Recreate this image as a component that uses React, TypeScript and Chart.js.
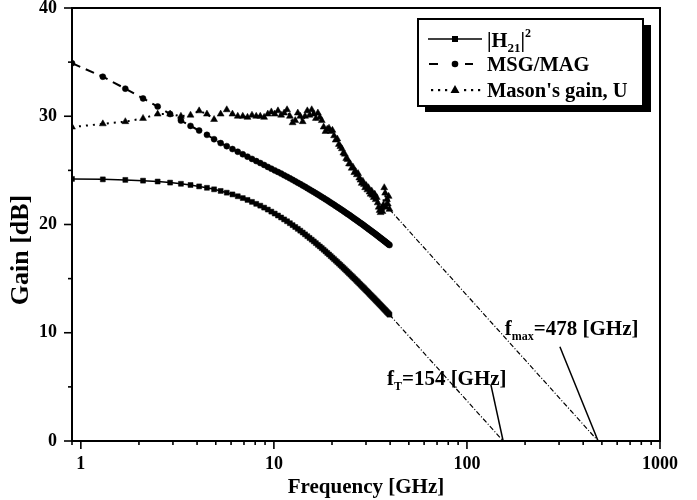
import React, { useEffect, useRef } from 'react';
import { Chart, registerables } from 'chart.js';

Chart.register(...registerables);

const FONT = "'Liberation Serif', 'Times New Roman', serif";

// ---- data ----
const FREQ_GHZ = [
  0.9, 1.3, 1.7, 2.1, 2.5, 2.9, 3.3, 3.7, 4.1, 4.5,
  4.9, 5.3, 5.7, 6.1, 6.5, 6.9, 7.3, 7.7, 8.1, 8.5,
  8.9, 9.3, 9.7, 10.1, 10.5, 10.9, 11.3, 11.7, 12.1, 12.5,
  12.9, 13.3, 13.7, 14.1, 14.5, 14.9, 15.3, 15.7, 16.1, 16.5,
  16.9, 17.3, 17.7, 18.1, 18.5, 18.9, 19.3, 19.7, 20.1, 20.5,
  20.9, 21.3, 21.7, 22.1, 22.5, 22.9, 23.3, 23.7, 24.1, 24.5,
  24.9, 25.3, 25.7, 26.1, 26.5, 26.9, 27.3, 27.7, 28.1, 28.5,
  28.9, 29.3, 29.7, 30.1, 30.5, 30.9, 31.3, 31.7, 32.1, 32.5,
  32.9, 33.3, 33.7, 34.1, 34.5, 34.9, 35.3, 35.7, 36.1, 36.5,
  36.9, 37.3, 37.7, 38.1, 38.5, 38.9, 39.3, 39.7,
];

const H21_DB = [
  24.21, 24.17, 24.12, 24.05, 23.97, 23.87, 23.76, 23.65, 23.52, 23.39,
  23.25, 23.10, 22.94, 22.78, 22.61, 22.44, 22.27, 22.09, 21.91, 21.74,
  21.56, 21.38, 21.19, 21.01, 20.83, 20.65, 20.47, 20.30, 20.12, 19.94,
  19.77, 19.60, 19.43, 19.26, 19.09, 18.92, 18.76, 18.60, 18.44, 18.28,
  18.12, 17.97, 17.82, 17.67, 17.52, 17.37, 17.23, 17.08, 16.94, 16.80,
  16.66, 16.53, 16.39, 16.26, 16.13, 16.00, 15.87, 15.74, 15.62, 15.49,
  15.37, 15.25, 15.13, 15.01, 14.90, 14.78, 14.67, 14.55, 14.44, 14.33,
  14.22, 14.12, 14.01, 13.90, 13.80, 13.70, 13.59, 13.49, 13.39, 13.29,
  13.20, 13.10, 13.00, 12.91, 12.82, 12.72, 12.63, 12.54, 12.45, 12.36,
  12.27, 12.18, 12.10, 12.01, 11.92, 11.84, 11.76, 11.67,
];

const MSG_MAG_DB = [
  34.90, 33.65, 32.55, 31.65, 30.90, 30.20, 29.60, 29.11, 28.68, 28.28,
  27.88, 27.52, 27.24, 26.97, 26.72, 26.49, 26.27, 26.06, 25.86, 25.68,
  25.50, 25.32, 25.16, 25.00, 24.85, 24.70, 24.55, 24.41, 24.27, 24.13,
  23.99, 23.86, 23.73, 23.60, 23.48, 23.36, 23.23, 23.11, 23.00, 22.88,
  22.77, 22.66, 22.55, 22.44, 22.33, 22.23, 22.12, 22.02, 21.92, 21.82,
  21.72, 21.62, 21.53, 21.43, 21.34, 21.25, 21.15, 21.06, 20.97, 20.89,
  20.80, 20.71, 20.63, 20.54, 20.46, 20.38, 20.30, 20.21, 20.13, 20.06,
  19.98, 19.90, 19.82, 19.75, 19.67, 19.59, 19.52, 19.45, 19.37, 19.30,
  19.23, 19.16, 19.09, 19.02, 18.95, 18.88, 18.81, 18.75, 18.68, 18.61,
  18.55, 18.48, 18.42, 18.35, 18.29, 18.23, 18.16, 18.10,
];

const MASON_U_DB = [
  29.0, 29.3, 29.5, 29.8, 30.2, 30.2, 30.0, 30.1, 30.5, 30.2,
  29.7, 30.2, 30.6, 30.2, 30.0, 30.0, 29.9, 30.1, 30.0, 30.0,
  29.9, 30.2, 30.4, 30.2, 30.5, 30.1, 30.3, 30.6, 30.0, 29.4,
  29.6, 30.3, 30.0, 29.5, 30.0, 30.5, 30.1, 30.6, 30.2, 29.8,
  30.3, 29.9, 29.6, 29.0, 28.6, 28.8, 28.9, 28.6, 28.7, 28.2,
  27.8, 27.9, 27.4, 27.2, 27.0, 26.6, 26.5, 26.1, 26.0, 25.6,
  25.6, 25.2, 25.3, 24.8, 24.9, 24.6, 24.7, 24.3, 24.1, 23.8,
  24.0, 23.7, 23.4, 23.6, 23.2, 23.4, 23.0, 22.8, 23.1, 22.7,
  22.5, 22.8, 22.3, 22.5, 22.0, 21.6, 21.3, 21.1, 21.5, 21.2,
  21.8, 23.4, 22.9, 21.6, 22.3, 21.9, 22.6, 21.4,
];

const FT_GHZ = 154;
const FMAX_GHZ = 478;
const FT_EXTRAP_FREQ = [39.7, FT_GHZ];
const FT_EXTRAP_DB = [11.67, 0];
const FMAX_EXTRAP_FREQ = [39.7, FMAX_GHZ];
const FMAX_EXTRAP_DB = [21.4, 0];

const X_MAJOR_TICKS = [1, 10, 100, 1000];
const X_MINOR_TICKS = [0.9, 2, 3, 4, 5, 6, 7, 8, 9, 20, 30, 40, 50, 60, 70, 80, 90, 200, 300, 400, 500, 600, 700, 800, 900];
const Y_MAJOR_TICKS = [0, 10, 20, 30, 40];
const Y_MINOR_TICKS = [5, 15, 25, 35];

const X_TITLE = 'Frequency [GHz]';
const Y_TITLE = 'Gain [dB]';

const toPoints = (xs: number[], ys: number[]) => xs.map((x, i) => ({ x, y: ys[i] }));

type Part = { text: string; size: number; dy: number };

function drawRich(ctx: CanvasRenderingContext2D, x: number, baseline: number, parts: Part[]) {
  let cx = x;
  for (const p of parts) {
    ctx.font = `bold ${p.size}px ${FONT}`;
    ctx.fillText(p.text, cx, baseline + p.dy);
    cx += ctx.measureText(p.text).width;
  }
}

const decorPlugin = {
  id: 'decor',
  afterDatasetsDraw(chart: any) {
    const { ctx, chartArea: a, scales } = chart;
    const xs = scales.x;
    const ys = scales.y;
    ctx.save();
    ctx.strokeStyle = '#000';
    ctx.fillStyle = '#000';
    ctx.setLineDash([]);

    // frame
    ctx.lineWidth = 2;
    ctx.strokeRect(a.left, a.top, a.right - a.left, a.bottom - a.top);

    // ticks
    ctx.lineWidth = 1.6;
    const seg = (x1: number, y1: number, x2: number, y2: number) => {
      ctx.beginPath();
      ctx.moveTo(x1, y1);
      ctx.lineTo(x2, y2);
      ctx.stroke();
    };
    for (const v of Y_MAJOR_TICKS) { const p = ys.getPixelForValue(v); seg(a.left - 8, p, a.left, p); }
    for (const v of Y_MINOR_TICKS) { const p = ys.getPixelForValue(v); seg(a.left - 4, p, a.left, p); }
    for (const v of X_MAJOR_TICKS) { const p = xs.getPixelForValue(v); seg(p, a.bottom, p, a.bottom + 8); }
    for (const v of X_MINOR_TICKS) { const p = xs.getPixelForValue(v); seg(p, a.bottom, p, a.bottom + 4); }

    // y title
    ctx.save();
    ctx.translate(21, 250);
    ctx.rotate(-Math.PI / 2);
    ctx.font = `bold 26px ${FONT}`;
    ctx.textAlign = 'center';
    ctx.textBaseline = 'middle';
    ctx.fillText(Y_TITLE, 0, 0);
    ctx.restore();

    // annotations (pointer lines + labels)
    ctx.lineWidth = 1.5;
    seg(xs.getPixelForValue(133), ys.getPixelForValue(5.2), xs.getPixelForValue(FT_GHZ), ys.getPixelForValue(0));
    seg(xs.getPixelForValue(303), ys.getPixelForValue(8.7), xs.getPixelForValue(FMAX_GHZ), ys.getPixelForValue(0));
    ctx.textAlign = 'left';
    ctx.textBaseline = 'alphabetic';
    drawRich(ctx, xs.getPixelForValue(38.5), ys.getPixelForValue(5.2), [
      { text: 'f', size: 21, dy: 0 },
      { text: 'T', size: 12, dy: 5 },
      { text: `=${FT_GHZ} [GHz]`, size: 21, dy: 0 },
    ]);
    drawRich(ctx, xs.getPixelForValue(157), ys.getPixelForValue(9.8), [
      { text: 'f', size: 21, dy: 0 },
      { text: 'max', size: 12, dy: 5 },
      { text: `=${FMAX_GHZ} [GHz]`, size: 21, dy: 0 },
    ]);

    // legend
    const L = a.right - 242;
    const T = a.top + 11;
    const W = 225;
    const H = 87;
    ctx.fillStyle = '#000';
    ctx.fillRect(L + 7, T + 6, W + 1, H);
    ctx.fillStyle = '#fff';
    ctx.fillRect(L, T, W, H);
    ctx.lineWidth = 2;
    ctx.strokeRect(L, T, W, H);
    ctx.fillStyle = '#000';

    const sx1 = L + 10, sx2 = L + 64, mx = L + 37;
    const r1 = T + 20, r2 = T + 45, r3 = T + 71;
    // row 1: solid + square
    ctx.lineWidth = 1.6;
    seg(sx1, r1, sx2, r1);
    ctx.fillRect(mx - 3, r1 - 3, 6, 6);
    // row 2: dashes + circle
    ctx.lineWidth = 2;
    seg(sx1 + 1, r2, sx1 + 10, r2);
    seg(sx2 - 17, r2, sx2 - 9, r2);
    ctx.beginPath();
    ctx.arc(mx, r2, 3.3, 0, Math.PI * 2);
    ctx.fill();
    // row 3: dots + triangle
    for (const dx of [4, 11, 18, 28, 35, 42]) {
      const px = dx < 20 ? sx1 + dx : mx + dx - 18;
      ctx.fillRect(px - 1, r3 - 1, 2.2, 2.2);
    }
    ctx.beginPath();
    ctx.moveTo(mx, r3 - 5);
    ctx.lineTo(mx + 4.5, r3 + 3);
    ctx.lineTo(mx - 4.5, r3 + 3);
    ctx.closePath();
    ctx.fill();

    const tx = L + 69;
    drawRich(ctx, tx, r1 + 8, [
      { text: '|H', size: 20.5, dy: 0 },
      { text: '21', size: 13, dy: 5 },
      { text: '|', size: 20.5, dy: 0 },
      { text: '2', size: 12, dy: -10 },
    ]);
    drawRich(ctx, tx, r2 + 7, [{ text: 'MSG/MAG', size: 20.5, dy: 0 }]);
    drawRich(ctx, tx, r3 + 7, [{ text: "Mason's gain, U", size: 20.5, dy: 0 }]);

    ctx.restore();
  },
};

export default function App() {
  const ref = useRef<HTMLCanvasElement | null>(null);

  useEffect(() => {
    if (!ref.current) return;
    const chart = new Chart(ref.current, {
      type: 'scatter',
      data: {
        datasets: [
          {
            label: 'fT extrapolation',
            data: toPoints(FT_EXTRAP_FREQ, FT_EXTRAP_DB),
            showLine: true,
            borderColor: '#000',
            borderWidth: 1.2,
            borderDash: [5, 2, 1, 2],
            pointRadius: 0,
          },
          {
            label: 'fmax extrapolation',
            data: toPoints(FMAX_EXTRAP_FREQ, FMAX_EXTRAP_DB),
            showLine: true,
            borderColor: '#000',
            borderWidth: 1.2,
            borderDash: [5, 2, 1, 2],
            pointRadius: 0,
          },
          {
            label: '|H21|²',
            data: toPoints(FREQ_GHZ, H21_DB),
            showLine: true,
            borderColor: '#000',
            backgroundColor: '#000',
            borderWidth: 1.5,
            pointStyle: 'rect',
            pointRadius: 3.5,
            pointBorderWidth: 0.5,
          },
          {
            label: 'MSG/MAG',
            data: toPoints(FREQ_GHZ, MSG_MAG_DB),
            showLine: true,
            borderColor: '#000',
            backgroundColor: '#000',
            borderWidth: 2,
            borderDash: [9, 6],
            pointStyle: 'circle',
            pointRadius: 3,
            pointBorderWidth: 0.5,
          },
          {
            label: "Mason's gain, U",
            data: toPoints(FREQ_GHZ, MASON_U_DB),
            showLine: true,
            borderColor: '#000',
            backgroundColor: '#000',
            borderWidth: 2,
            borderDash: [2, 5],
            pointStyle: 'triangle',
            pointRadius: 4,
            pointBorderWidth: 0.5,
          },
        ],
      },
      options: {
        animation: false,
        responsive: false,
        maintainAspectRatio: false,
        devicePixelRatio: 1,
        layout: { padding: { top: 8, right: 37, left: 0, bottom: 0 } },
        plugins: { legend: { display: false }, tooltip: { enabled: false } },
        scales: {
          x: {
            type: 'logarithmic',
            min: 0.9,
            max: 1000,
            grid: { display: false, drawTicks: false },
            border: { display: false },
            afterBuildTicks: (scale: any) => {
              scale.ticks = X_MAJOR_TICKS.map((value) => ({ value }));
            },
            afterFit: (scale: any) => {
              scale.height = 59;
            },
            ticks: {
              autoSkip: false,
              maxRotation: 0,
              padding: 13,
              color: '#000',
              font: { family: FONT, size: 18, weight: 'bold', lineHeight: 1.2 },
              callback: (v: any) => String(v),
            },
            title: {
              display: true,
              text: X_TITLE,
              color: '#000',
              font: { family: FONT, size: 21, weight: 'bold', lineHeight: 1.2 },
              padding: { top: 0, bottom: 0 },
            },
          },
          y: {
            min: 0,
            max: 40,
            grid: { display: true, drawOnChartArea: false, drawTicks: true, tickLength: 15, color: 'rgba(0,0,0,0)' },
            border: { display: false },
            afterBuildTicks: (scale: any) => {
              scale.ticks = Y_MAJOR_TICKS.map((value) => ({ value }));
            },
            afterFit: (scale: any) => {
              scale.width = 72;
            },
            ticks: {
              padding: 0,
              color: '#000',
              font: { family: FONT, size: 18, weight: 'bold', lineHeight: 0.85 },
              callback: (v: any) => String(v),
            },
          },
        },
      } as any,
      plugins: [decorPlugin],
    });
    return () => chart.destroy();
  }, []);

  return (
    <div style={{ position: 'absolute', left: 0, top: 0, width: 697, height: 500, background: '#fff' }}>
      <canvas ref={ref} width={697} height={500} style={{ display: 'block' }} />
    </div>
  );
}
